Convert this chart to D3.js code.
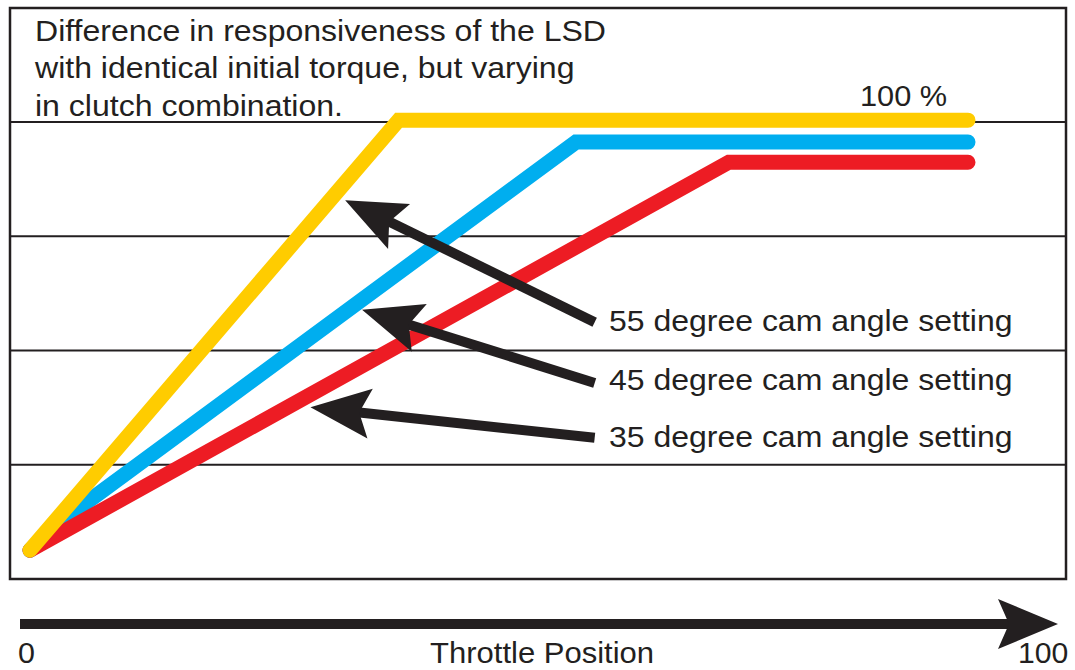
<!DOCTYPE html>
<html>
<head>
<meta charset="utf-8">
<script src="https://cdn.jsdelivr.net/npm/d3@7"></script>
<style>
	body { margin: 0; background: #fff; }
	#chartDiv { width: 1075px; height: 670px; }
	text { font-family: "Liberation Sans", Arial, sans-serif; fill: #231f20; }
</style>
</head>
<body>
<div id="chartDiv"></div>
<script>
// throttle position (0-100) and response (% of max)
const seriesColors = ['#00aeef', '#ed1c24', '#ffcc00'];
// drawn in this order: blue, red, yellow on top
const blueX = [0, 2.9, 58.2, 100];
const blueY = [6.3, 12.0, 95.6, 95.6];
const redX = [0, 74.5, 100];
const redY = [6.3, 91.2, 91.2];
const yellowX = [0, 39.3, 100];
const yellowY = [6.3, 100.4, 100.4];
const gridVals = [25, 50, 75, 100];

// annotation arrows: tail -> tip, in data units
const arrowTailX = [60.2, 60.2, 60.2];
const arrowTailY = [56.2, 42.9, 30.9];
const arrowTipX = [33.6, 35.4, 29.9];
const arrowTipY = [82.9, 58.9, 37.6];
const arrowLabels = ['55 degree cam angle setting', '45 degree cam angle setting', '35 degree cam angle setting'];

const titleLines = ['Difference in responsiveness of the LSD', 'with identical initial torque, but varying', 'in clutch combination.'];

const ink = '#231f20';

function makeSvg(parentDivID){
	const chartDiv = document.getElementById(parentDivID);
	const svgObj = d3.select(chartDiv).append('svg')
		.attr('width', 1075)
		.attr('height', 670);
	return {chartDiv, svgObj};
}

function addText(g, str, x, y, size, sx){
	return g.append('text')
		.attr('transform', `translate(${x},${y}) scale(${sx || 1.1},1)`)
		.attr('font-size', size)
		.text(str);
}

// filled arrow: shaft + notched head
function drawArrow(g, x0, y0, x1, y1){
	const headLen = 60, headHalf = 25, notch = 49, shaftW = 10;
	const dx = x1 - x0, dy = y1 - y0;
	const len = Math.sqrt(dx*dx + dy*dy);
	const ux = dx/len, uy = dy/len;
	const px = -uy, py = ux;
	const bx = x1 - ux*headLen, by = y1 - uy*headLen;
	const nx = x1 - ux*notch, ny = y1 - uy*notch;

	g.append('line')
		.attr('x1', x0).attr('y1', y0)
		.attr('x2', nx + ux*2).attr('y2', ny + uy*2)
		.attr('stroke', ink)
		.attr('stroke-width', shaftW);

	g.append('path')
		.attr('d', `M${x1},${y1}L${bx + px*headHalf},${by + py*headHalf}L${nx},${ny}L${bx - px*headHalf},${by - py*headHalf}Z`)
		.attr('fill', ink);
}

function buildChart(){
	const {chartDiv, svgObj} = makeSvg('chartDiv');

	const frame = {left: 10, top: 8, right: 1066, bottom: 579};

	const xScale = d3.scaleLinear().domain([0, 100]).range([30, 968]);
	const yScale = d3.scaleLinear().domain([0, 100]).range([frame.bottom, 122]);

	const g = svgObj.append('g');

	// frame
	g.append('rect')
		.attr('x', frame.left).attr('y', frame.top)
		.attr('width', frame.right - frame.left)
		.attr('height', frame.bottom - frame.top)
		.attr('fill', 'none')
		.attr('stroke', ink)
		.attr('stroke-width', 2.5);

	// grid lines
	g.selectAll('.grid')
		.data(gridVals)
		.enter()
		.append('line')
		.attr('class', 'grid')
		.attr('x1', frame.left).attr('x2', frame.right)
		.attr('y1', d => yScale(d)).attr('y2', d => yScale(d))
		.attr('stroke', ink)
		.attr('stroke-width', 2);

	// title
	titleLines.forEach((t, i) => addText(g, t, 35, [41, 78, 116][i], 29, 1.105));

	addText(g, '100 %', 860, 106, 29, 1.06);

	// response curves
	const lineFunc = d3.line()
		.x(d => xScale(d[0]))
		.y(d => yScale(d[1]));

	const series = [
		d3.zip(blueX, blueY),
		d3.zip(redX, redY),
		d3.zip(yellowX, yellowY)
	];

	g.selectAll('.curve')
		.data(series)
		.enter()
		.append('path')
		.attr('class', 'curve')
		.attr('d', lineFunc)
		.attr('fill', 'none')
		.attr('stroke', (d, i) => seriesColors[i])
		.attr('stroke-width', 15)
		.attr('stroke-linecap', 'round')
		.attr('stroke-linejoin', 'miter');

	// annotation arrows and labels
	arrowLabels.forEach((lab, i) => {
		drawArrow(g,
			xScale(arrowTailX[i]), yScale(arrowTailY[i]),
			xScale(arrowTipX[i]), yScale(arrowTipY[i]));
		addText(g, lab, 609, [331, 390, 447][i], 29, 1.103);
	});

	// throttle axis
	const axisX = d3.scaleLinear().domain([0, 100]).range([20, 1058]);
	drawArrow(g, axisX(0), 624, axisX(100), 624);

	addText(g, '0', 18, 663, 29, 1.05);
	addText(g, 'Throttle Position', 430, 663, 29, 1.07);
	addText(g, '100', 1018, 663, 29, 1.04);
}

buildChart();
</script>
</body>
</html>
